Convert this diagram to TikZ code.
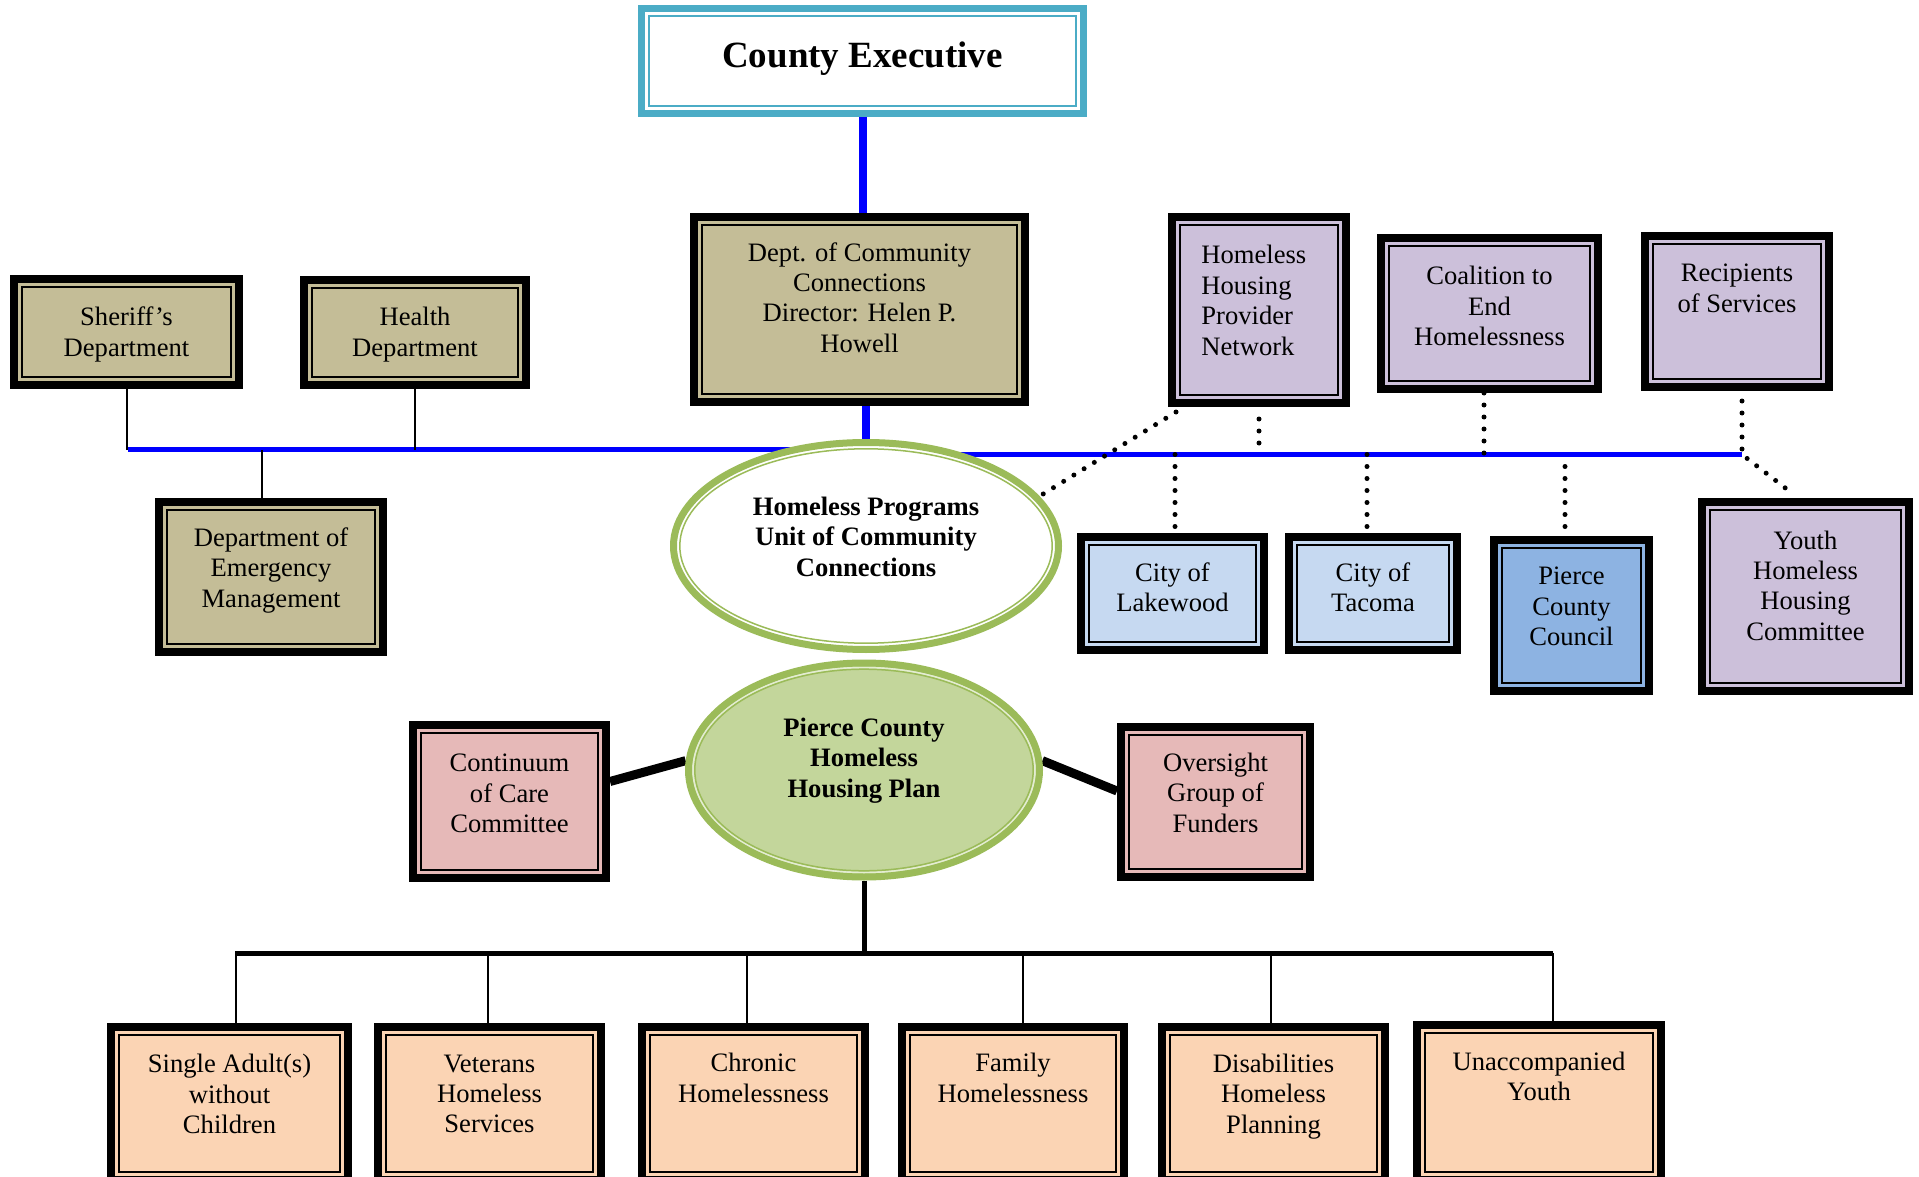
\documentclass[tikz,border=0pt]{standalone}
\usepackage{fontspec}
\setmainfont{Liberation Serif}
\usetikzlibrary{shapes.geometric,calc}
\definecolor{ceTeal}{HTML}{4BACC6}
\definecolor{tanF}{HTML}{C4BD97}
\definecolor{lavF}{HTML}{CCC0DA}
\definecolor{ltblueF}{HTML}{C6D9F1}
\definecolor{midblueF}{HTML}{8DB3E2}
\definecolor{pinkF}{HTML}{E6B9B8}
\definecolor{peachF}{HTML}{FBD4B4}
\definecolor{grnB}{HTML}{9BBB59}
\definecolor{grnF}{HTML}{C3D69B}
\definecolor{grnGap}{HTML}{E4EDD2}
\definecolor{busBlue}{HTML}{0000FF}
\pgfdeclarelayer{background}
\pgfsetlayers{background,main}
\newcommand{\obox}[6]{\node[dbox, fill=#6, minimum width={(#4-#2)*0.5pt-4pt}, minimum height={(#5-#3)*0.5pt-4pt}] (#1) at ({(#2+#4)/2},{(#3+#5)/2}) {};}
\begin{document}
\begin{tikzpicture}[x=0.5pt,y=-0.5pt,
  dbox/.style={rectangle, draw=black, line width=4pt, inner sep=0pt,
    path picture={\draw[black, line width=1pt] ([shift={(4pt,4pt)}]path picture bounding box.south west) rectangle ([shift={(-4pt,-4pt)}]path picture bounding box.north east);}},
  cebox/.style={rectangle, draw=ceTeal, line width=3.5pt, fill=white, inner sep=0pt,
    path picture={\draw[ceTeal, line width=1.2pt] ([shift={(3.8pt,3.8pt)}]path picture bounding box.south west) rectangle ([shift={(-3.8pt,-3.8pt)}]path picture bounding box.north east);}},
  hpell/.style={ellipse, draw=grnB, line width=3.5pt, fill=white, inner sep=0pt,
    minimum width=192.5pt, minimum height=103.5pt,
    path picture={\draw[grnB, line width=0.75pt] (path picture bounding box.center) ellipse [x radius=93.1pt, y radius=48.6pt];}},
  plell/.style={ellipse, draw=grnB, line width=3.5pt, fill=grnF, inner sep=0pt,
    minimum width=175.5pt, minimum height=107pt,
    path picture={\draw[grnGap, line width=1pt] (path picture bounding box.center) ellipse [x radius=85.5pt, y radius=51.25pt];
      \draw[grnB, line width=0.75pt] (path picture bounding box.center) ellipse [x radius=84.6pt, y radius=50.4pt];}},
  txt/.style={inner sep=0pt, align=center, yshift=-1.75pt, font=\fontsize{13.3pt}{15.2pt}\selectfont},
  btxt/.style={inner sep=0pt, align=center, yshift=-1.75pt, font=\fontsize{13.3pt}{15.2pt}\selectfont\bfseries},
  bluev/.style={draw=busBlue, line width=4pt},
  blueh/.style={draw=busBlue, line width=2.5pt},
  thinl/.style={draw=black, line width=1pt},
  dotl/.style={draw=black, line width=2.5pt, line cap=round, dash pattern=on 0pt off 6pt},
  blk/.style={draw=black}
]
\useasboundingbox (0,0) rectangle (1919,1177);

% top
\node[cebox, minimum width=221pt, minimum height=52.5pt] (ce) at (862.5,61) {};
\node[txt, font=\fontsize{18.5pt}{22pt}\selectfont\bfseries] (ce-t) at (862.5,55) {County Executive};

\obox{dept}{690}{213}{1029}{406}{tanF}
\node[txt] (dept-t) at (859.5,294) {Dept. of Community\\Connections\\Director: Helen P.\\Howell};

\obox{sheriff}{10}{275}{243}{389}{tanF}
\node[txt] (sheriff-t) at (126.5,331) {Sheriff’s\\Department};

\obox{health}{300}{276}{530}{389}{tanF}
\node[txt] (health-t) at (415,331) {Health\\Department};

\obox{emerg}{155}{498}{387}{656}{tanF}
\node[txt] (emerg-t) at (271,567) {Department of\\Emergency\\Management};

\obox{hhpn}{1168}{213}{1350}{407}{lavF}
\node[txt, align=left, anchor=west] (hhpn-t) at (1201,297) {Homeless\\Housing\\Provider\\Network};

\obox{coal}{1377}{234}{1602}{393}{lavF}
\node[txt] (coal-t) at (1489.5,302.5) {Coalition to\\End\\Homelessness};

\obox{recip}{1641}{232}{1833}{391}{lavF}
\node[txt] (recip-t) at (1737,285) {Recipients\\of Services};

\obox{youth}{1698}{498}{1913}{695}{lavF}
\node[txt] (youth-t) at (1805.5,582) {Youth\\Homeless\\Housing\\Committee};

\obox{lake}{1077}{533}{1268}{654}{ltblueF}
\node[txt] (lake-t) at (1172.5,584) {City of\\Lakewood};

\obox{tac}{1285}{533}{1461}{654}{ltblueF}
\node[txt] (tac-t) at (1373,584) {City of\\Tacoma};

\obox{pcc}{1490}{536}{1653}{695}{midblueF}
\node[txt] (pcc-t) at (1571.5,603) {Pierce\\County\\Council};

\node[hpell] (hp) at (866,546) {};
\node[btxt] (hp-t) at (866,533) {Homeless Programs\\Unit of Community\\Connections};

% lower
\node[plell] (plan) at (864,770) {};
\node[btxt] (plan-t) at (864,757) {Pierce County\\Homeless\\Housing Plan};

\obox{cont}{409}{721}{610}{882}{pinkF}
\node[txt] (cont-t) at (509.5,790) {Continuum\\of Care\\Committee};

\obox{over}{1117}{723}{1314}{881}{pinkF}
\node[txt] (over-t) at (1215.5,789) {Oversight\\Group of\\Funders};

\obox{sa}{107}{1023}{352}{1184}{peachF}
\node[txt] (sa-t) at (229.5,1090.5) {Single Adult(s)\\without\\Children};
\obox{vet}{374}{1023}{605}{1184}{peachF}
\node[txt] (vet-t) at (489.5,1090.5) {Veterans\\Homeless\\Services};
\obox{chr}{638}{1023}{869}{1184}{peachF}
\node[txt] (chr-t) at (753.5,1074.3) {Chronic\\Homelessness};
\obox{fam}{898}{1023}{1128}{1184}{peachF}
\node[txt] (fam-t) at (1013,1074.3) {Family\\Homelessness};
\obox{dis}{1158}{1023}{1389}{1184}{peachF}
\node[txt] (dis-t) at (1273.5,1093) {Disabilities\\Homeless\\Planning};
\obox{una}{1413}{1021}{1665}{1184}{peachF}
\node[txt] (una-t) at (1539,1073) {Unaccompanied\\Youth};

% bus coordinates
\coordinate (lbusL) at (128,449.5);
\coordinate (lbusR) at (805,449.5);
\coordinate (rbusL) at (960,454.5);
\coordinate (rbusR) at (1742,454.5);
\coordinate (bbarL) at (235,953);
\coordinate (bbarR) at (1553,953);
\coordinate (pccTop) at ([xshift=-3.25pt]pcc.north);

\begin{pgfonlayer}{background}
\fill[white] (0,0) rectangle (1919,1177);
\draw[bluev] (ce.south) -- (ce.south |- dept.north);
\draw[bluev] (hp.north |- dept.south) -- (hp.north);
\draw[blueh] (lbusL) -- (lbusR);
\draw[blueh] (rbusL) -- (rbusR);
\draw[thinl] (sheriff.south) -- (sheriff.south |- lbusL);
\draw[thinl] (health.south) -- (health.south |- lbusL);
\draw[thinl] ([xshift=-4.5pt]emerg.north) -- ([xshift=-4.5pt]emerg.north |- lbusL);

\draw[dotl] ([shift={(4pt,-2.5pt)}]hhpn.south west) -- (hp.16);
\draw[dotl] ([yshift=-6pt]hhpn.south) -- (hhpn.south |- rbusL);
\draw[dotl] ([xshift=1.25pt]lake.north |- rbusL) -- ([xshift=1.25pt]lake.north);
\draw[dotl] ([xshift=-3pt]tac.north |- rbusL) -- ([xshift=-3pt]tac.north);
\draw[dotl] ([xshift=-2.75pt]coal.south) -- ([xshift=-2.75pt]coal.south |- rbusL);
\draw[dotl] ($(pccTop |- rbusL)+(0,12)$) -- (pccTop);
\draw[dotl] ([shift={(2.5pt,-5pt)}]recip.south) -- (rbusR) -- ([shift={(-7.5pt,3pt)}]youth.north);

\draw[blk, line width=4.5pt] ([yshift=10pt]cont.east) -- (plan.177);
\draw[blk, line width=4.5pt] (plan.3) -- ([yshift=5.5pt]over.west);
\draw[blk, line width=2.5pt] (plan.south) -- (plan.south |- bbarL);
\draw[blk, line width=2.5pt] (bbarL) -- (bbarR);
\draw[thinl] ([xshift=3.25pt]sa.north |- bbarL) -- ([xshift=3.25pt]sa.north);
\draw[thinl] ([xshift=-0.75pt]vet.north |- bbarL) -- ([xshift=-0.75pt]vet.north);
\draw[thinl] ([xshift=-3.25pt]chr.north |- bbarL) -- ([xshift=-3.25pt]chr.north);
\draw[thinl] ([xshift=5pt]fam.north |- bbarL) -- ([xshift=5pt]fam.north);
\draw[thinl] ([xshift=-1.25pt]dis.north |- bbarL) -- ([xshift=-1.25pt]dis.north);
\draw[thinl] ([xshift=7pt]una.north |- bbarL) -- ([xshift=7pt]una.north);
\end{pgfonlayer}
\end{tikzpicture}
\end{document}
